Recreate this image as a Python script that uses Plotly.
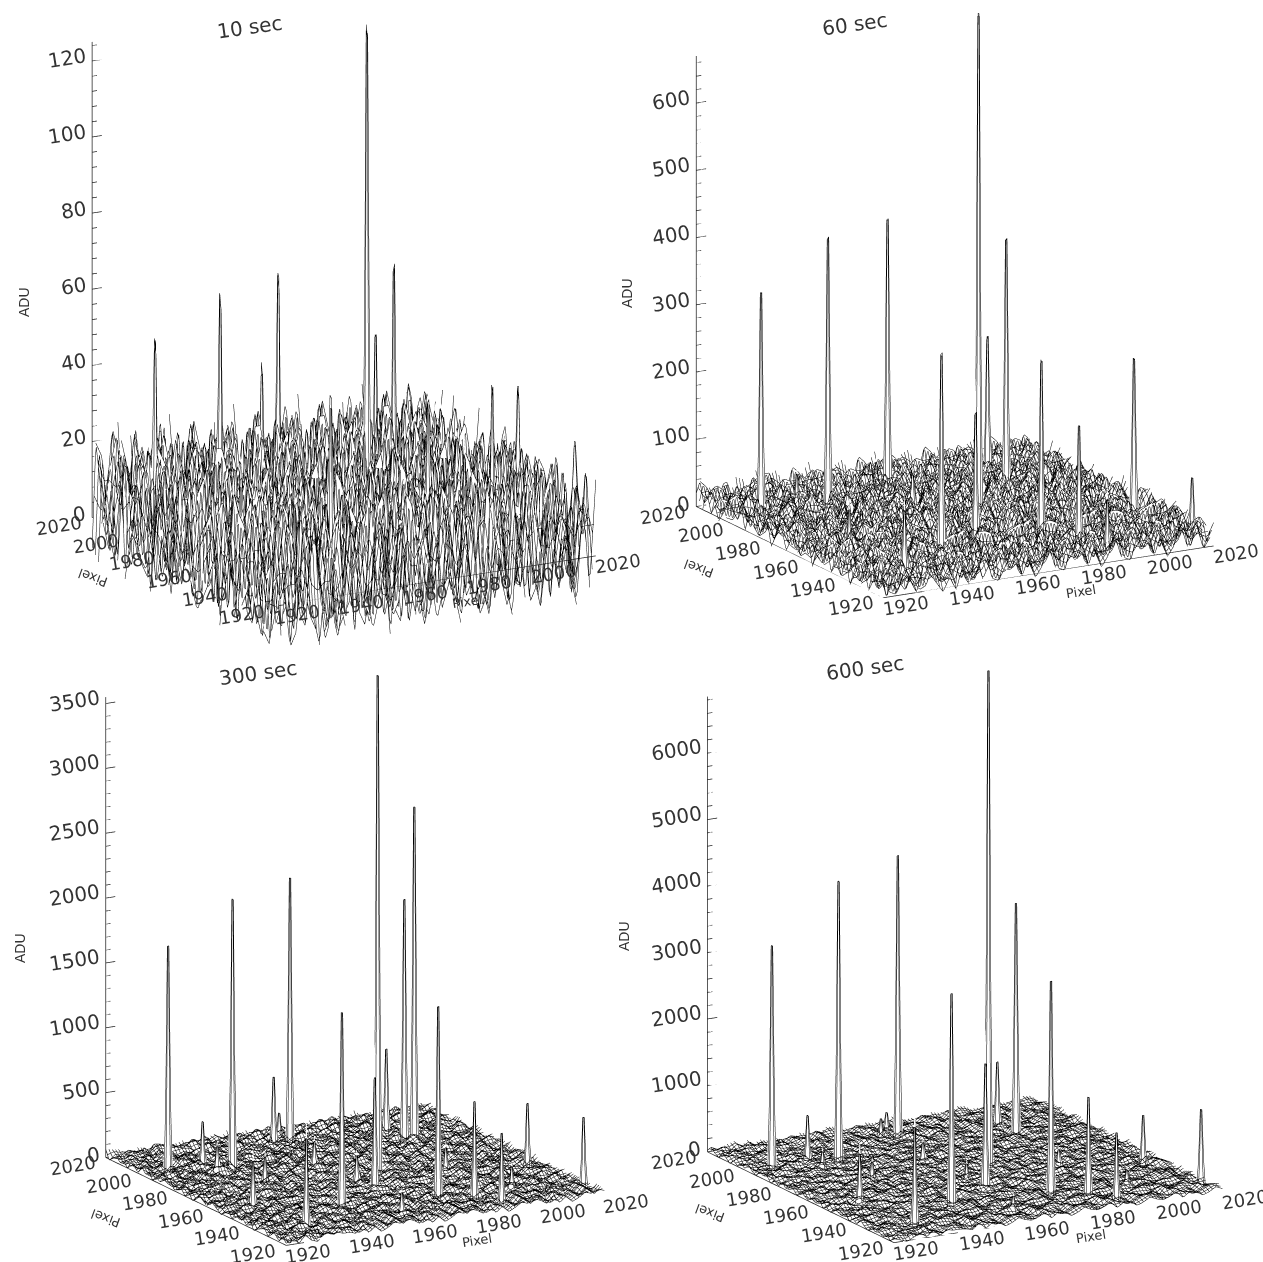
import plotly.graph_objects as go

# hot pixels (detector coordinates) shared by the four exposures
hot_x = [1926,1944,1970,1950,1976,1998,1978,1932,2018,1986,1990,1998,1966,2014,1938,1930,2000,1964,1966,2000,1970,1966,1962,1944,1994,1938]
hot_y = [1996,1992,2006,1942,1968,1992,1938,1930,1928,1932,1924,2002,1952,1952,1998,1956,1990,1982,2008,1936,2012,1962,1930,1974,1962,1990]
# spike heights above the floor, ADU
hot_10 = [48,58,58,43,129,62,38,22,24,26,44,42,30,34,20,22,0,20,34,0,0,0,0,0,0,0]
hot_60 = [340,415,405,304,759,375,277,100,89,184,84,212,193,235,60,70,0,60,40,30,35,30,30,35,30,35]
hot_300 = [1770,2086,2055,1530,3850,1878,1490,700,550,770,565,650,890,510,350,360,2590,200,520,180,200,220,170,220,180,210]
hot_600 = [3390,4270,4270,3210,7520,3514,3240,1500,1130,1500,1050,980,1885,750,700,750,0,300,300,240,300,250,220,280,240,260]
# the wires pass just beside the mesh node, so the node sits higher for the wire to reach the value
peak_gain = 1.33

pixels = list(range(1920, 2021))
pixel_ticks = [1920, 1940, 1960, 1980, 2000, 2020]
titles = ["10 sec", "60 sec", "300 sec", "600 sec"]
z_ticks = [
    [0, 20, 40, 60, 80, 100, 120],
    [0, 100, 200, 300, 400, 500, 600],
    [0, 500, 1000, 1500, 2000, 2500, 3000, 3500],
    [0, 1000, 2000, 3000, 4000, 5000, 6000],
]
z_minor = [4, 20, 100, 200]
z_top = [125, 670, 3550, 6850]

# floor noise, one digit per 2-pixel step; ADU = (digit - offset) * unit
floor_10 = """
716394205781642938057316492870513964207185392640718
294018673152908467312985046731829405617392084651392
563872194060375218946703152984367015829463170592846
107946358271496830251749683025176349820516937428065
849230617584012769354108275936481207695438016275394
356198047263785410692835741069258317904652381790463
971654283109263875014596320847195620478136925048317
420387916542908136785024961738052486391705264983150
685102739486153947206318579420637195842063917584206
239576048173620485931762049358714063285916047328591
874061392586497123058649270135862940371586204973615
152793684020318569274031586927403168529740361852074
608345917264785102396857140296385710942638571094263
397108256439162043785916204387569120438756912043875
541629873015830967412583096741258309674125830964172
063478195728104652983710465298371046529837104659283
786250341967329485016732948501673294850167329485106
912754608341576039284657103928465710392846571039284
345081976253804971625380497162538049716253804917652
670924183572196358047219635804721963580472193658047
128365790464057218936405721893640572189364057281936
893517024689132746085913274608591327460859132476085
456092837115768902345176890234517689023451768903245
201748365902384657190238465719023846571902346857190
739560128473951206847395120684739512068473951206487
584213096787426130958742613095874261309587426310958
960437582161094835726109483572610948357261094385726
317859240632518694073251869407325186940732518964073
642701935884693027518469302751846930275184693207518
175386049290735418620735418620735418620735418620735
908214763558261709345826170934582617093458261790345
423950687116839052471683905247168390524716830952471
756048312997042561839704256183970425618397042651839
381627954042375918604237591860423759186042357918604
094735826164958230716495823071649582307164958320716
527169408372180647953218064795321806479532180467953
860394571259603172486031724860317248603172486037248
213875064926847951302684795130268479513026847591302
749502183663059418273305941827330594182733059418273
386241907505426873199542687319954268731995426873919
651098734281197065342119706534211970653421197065342
032785469178730296415873029641587302964158730292641
974516320843642781059364278105936427810593642781059
185630297454518309762451830976245183097624518300976
460972813692061954738206195473820619547382061954738
793248516030875123694087512369408751236940875132694
528107643917496038512749603851274960385127496083512
316459280741239754806123975480612397548061239754806
649723015865180472693518047269351804726935180472963
872056431292614857301261485730126148573012614857301
105394876243957206184395720618439572061843957206184
""".split()
floor_60 = """
482751963040719265348170392654817039265481703926548
907364128535824691073582469107358246910735824691703
361095847226043175892604317589260431758926043175896
728430516949185037264918503726491850372649185037264
154679280373960482715396048271539604827153960482715
690215837461538720946153872094615387209461538720946
235948601776081395427608139542760813954276081395427
873106452981724506938172450693817245069381724506938
416587329050296843170296843170296843170296843170296
049273685113467925084346792508434679250843467925084
782654091339815042679981504267998150426799815042679
325019764861043789216104378921610437892161043789216
968473215046572130895657213089565721308956572130895
501786942323915467028391546702839154670283915467028
147320859660483921576048392157604839215760483921576
890561437218276150394827615039482761503948276150394
236894071557309648127730964812773096481277309648127
674102398541854073269185407326918540732691854073269
419753620885627310498562731049856273104985627310498
083246957116094875231609487523160948752316094875231
752091864333418926507341892650734189265073418926507
316487025979650312847965031284796503128479650312847
965138742002873165940287316594028731659402873165940
248705619364129057836412905783641290578364129057836
701396258487536842019753684201975368420197536842019
483952160736901274586901274586901274586901274586901
159673804228460937152846093715284609371528460937152
620148397575218460937521846093752184609375218460937
874320965163794105682379410568237941056823794105682
395761280446052837916605283791660528379166052837916
042598173617381496250738149625073814962507381496250
718236405992649570831264957083126495708312649570831
563409871285916023748591602374859160237485916023748
286175934040473819265047381926504738192650473819265
937842016561280576493128057649312805764931280576493
401563728976832194056683219405668321940566832194056
659027843111574938206157493820615749382061574938206
182734695023097685413309768541330976854133097685413
825490176374916203857491620385749162038574916203857
370916548260458137926045813792604581379260458137926
543268019787230694185723069418572306941857230694185
896107325441365972048136597204813659720481365972048
214875630993908451672390845167239084516723908451672
761392084552174360829217436082921743608292174360829
038546917226843215970684321597068432159706843215970
425761983070596728134059672813405967281340596728134
197038452668735104926873510492687351049268735104926
680925317434028693571402869357140286935714028693571
352817064991460528713146052871314605287131460528713
973460128556219734086621973408662197340866219734086
506142873937850269415785026941578502694157850269415
""".split()
floor_300 = """
371820956442916037586291603758629160375862916037586
804593162785037164928503716492850371649285037164928
256047813936184250739618425073961842507396184250739
619738205421867053942186705394218670539421867053942
983260574169502481736950248173695024817369502481736
140579628353729610845372961084537296108453729610845
725416930884160395274416039527441603952744160395274
568903241790247168350247168350247168350247168350247
392185764012853940627285394062728539406272853940627
036742815967519302468751930246875193024687519302468
874601293525038746912503874691250387469125038746912
219358046783695120478369512047836951204783695120478
650827413904972468315497246831549724683154972468315
483190752667281503946728150394672815039467281503946
907634128351406279583140627958314062795831406279583
135296840772860193547286019354728601935472860193547
768041395216534970126534970126534970126534970126534
412975608330197642853019764285301976428530197642853
056382719448725036914872503691487250369148725036914
389710264595468102739546810273954681027395468102739
621498053712093845671209384567120938456712093845671
947035826161378260495137826049513782604951378260495
273864150985902476138590247613859024761385902476138
504129673876214905386621490538662149053866214905386
816753049237650318924765031892476503189247650318924
392680415749941823605994182360599418236059941823605
045917362888063175429806317542980631754298063175429
761204983556327489016632748901663274890166327489016
128563790471479036258147903625814790362581479036258
653048921775108629347510862934751086293475108629347
480971236542856013794285601379428560137942856013794
217345809663790524168379052416837905241683790524168
934826175009214367805921436780592143678059214367805
506192748338431870962843187096284318709628431870962
872350964111567290438156729043815672904381567290438
345718620994082135679408213567940821356794082135679
691405283767326854019732685401973268540197326854019
128967430525907143862590714386259071438625907143862
753240916848165720394816572039481657203948165720394
406183597232749096185274909618527490961852749096185
960732415801683475219168347521916834752191683475219
284591076363056912748305691274830569127483056912748
537026189494271608531427160853142716085314271608531
819463750226918350476691835047669183504766918350476
142805693770534269871053426987105342698710534269871
675390842115802763910580276391058027639105802763910
308174965242469031587246903158724690315872469031587
796523014889137684205913768420591376842059137684205
421869370553790412869379041286937904128693790412869
053742198660285937416028593741602859374160285937416
987216504334614057293461405729346140572934614057293
""".split()
floor_600 = """
630482917554291760384259176038425917603842591760384
175926340883047512698304751269830475126983047512698
849061732596318240576631824057663182405766318240576
203758916447096351824709635182470963518247096351824
567134089210582976431058297643105829764310582976431
394825601776249038157624903815762490381576249038157
718460235939873124605987312460598731246059873124605
026937184561405869372140586937214058693721405869372
451208693782961347058296134705829613470582961347058
983576420109742058316974205831697420583169742058316
260194837545218369704521836970452183697045218369704
675823910438650471928865047192886504719288650471928
137469258026097528341609752834160975283416097528341
892051764361394860257139486025713948602571394860257
304768129585412936076541293607654129360765412936076
548390612747180423695718042369571804236957180423695
761205498332965740183296574018329657401832965740183
029643875118743052961874305296187430529618743052961
486917320564136892507413689250741368925074136892507
153028946770524169378052416937805241693780524169378
970476132889265731046926573104692657310469265731046
312859047606801493527680149352768014935276801493527
645132708923458706192345870619234587061923458706192
238760591441926058374192605837419260583741926058374
507394816272607941835260794183526079418352607941835
894216075363781520469378152046937815204693781520469
126580347919043867251904386725190438672519043867251
753041692888512396470851239647085123964708512396470
469327850105274180936527418093652741809365274180936
381954206767639025148763902514876390251487639025148
902713468534180956723418095672341809567234180956723
246085937161895324076189532407618953240761895324076
615973024898327016549832701654983270165498327016549
078426153973064582791306458279130645827913064582791
734109586222417893650241789365024178936502417893650
590862317445973102864597310286459731028645973102864
823745160966205948371620594837162059483716205948371
167398204539586471023958647102395864710239586471023
452016973883741259608374125960837412596083741259608
906531748214098327564098327564098327564098327564098
381274605906523781946523781946523781946523781946523
745609128372960413852960413852960413852960413852960
218043796557134698204713469820471346982047134698204
693817240528472056139847205613984720561398472056139
047256391863805172946380517294638051729463805172946
572936804114619385027461938502746193850274619385027
836401259770248710635024871063502487106350248710635
129675048345391462876539146287653914628765391462876
460318592791756083214175608321417560832141756083214
957284613002863195740286319574028631957402863195740
314790826463107542983310754298331075429833107542983
""".split()
floor_tables = [floor_10, floor_60, floor_300, floor_600]
hot_tables = [hot_10, hot_60, hot_300, hot_600]
floor_offset = [3, 1, 1, 1]
floor_unit = [4, 5, 8, 12]

# layout in page pixels
WID, HEI = 1263, 1262
scene_box = [(44, 644, 0, 655), (655, 1255, 0, 655), (55, 655, 655, 1262), (667, 1263, 655, 1262)]
base_mid_y = [537.5, 527, 1176, 1171]       # page y of the middle of the z=0 plane
ppu = [3.82, 0.675, 0.1294, 0.0663]         # page pixels per ADU
z_hi = [190, 1050, 5500, 10500]
cube_xy = [1.128, 1.159, 1.205, 1.245]      # scene aspect of the x and y sides
z_unit = [316, 316, 291, 291]               # page pixels per unit of z aspect
eye_dir = (-0.474, -0.835, 0.276)
title_pos = [(250, 27, -8), (855, 24, -8), (258, 673, -8), (865, 668, -8)]
adu_pos = [(24, 302), (627, 293), (20, 948), (624, 936)]
wire_w = [2, 2, 2, 2]
FONT = "DejaVu Sans"
INK = "#333333"


def mesh(table, offset, unit):
    """Wire mesh through the table: the wires are straight between table values."""
    vals = [[(int(c) - offset) * unit for c in row[:51].ljust(51, "4")] for row in table]
    n = len(vals)
    Z = [[0.0] * (2 * n - 1) for _ in range(2 * n - 1)]
    for j in range(2 * n - 1):
        for i in range(2 * n - 1):
            a = [vals[j // 2][i // 2], vals[(j + 1) // 2][i // 2],
                 vals[j // 2][(i + 1) // 2], vals[(j + 1) // 2][(i + 1) // 2]]
            Z[j][i] = sum(a) / 4
    return Z


fig = go.Figure()
layout = {}
annotations = []
for p in range(4):
    name = "scene" if p == 0 else f"scene{p+1}"
    x0, x1, y0, y1 = scene_box[p]
    cy = (y0 + y1) / 2
    lo = 2 * (base_mid_y[p] - cy) / ppu[p] - z_hi[p]
    hi = z_hi[p]
    Z = mesh(floor_tables[p], floor_offset[p], floor_unit[p])
    for hx, hy, h in zip(hot_x, hot_y, hot_tables[p]):
        if h:
            Z[hy - 1920][hx - 1920] = h * peak_gain
    line_c = dict(show=True, start=1920, end=2020, size=1, color="black", width=wire_w[p], highlight=False)
    fig.add_trace(go.Surface(
        x=pixels, y=pixels, z=Z, scene=name, showscale=False, hoverinfo="skip",
        colorscale=[[0, "white"], [1, "white"]],
        lighting=dict(ambient=1, diffuse=0, specular=0, roughness=1, fresnel=0),
        contours=dict(x=line_c, y=line_c, z=dict(show=False, highlight=False)),
    ))
    # frame and z ticks
    fx = [1920, 2020, None, 1920, 1920, None, 1920, 1920]
    fy = [1920, 1920, None, 1920, 2020, None, 2020, 2020]
    fz = [0, 0, None, 0, 0, None, 0, z_top[p]]
    v = 0
    while v <= z_top[p]:
        major = v in z_ticks[p]
        fx += [None, 1920, 1923 if major else 1921.5]
        fy += [None, 2020, 2020]
        fz += [None, v, v]
        v += z_minor[p]
    fig.add_trace(go.Scatter3d(x=fx, y=fy, z=fz, mode="lines", scene=name, hoverinfo="skip",
                               line=dict(color="#222222", width=1.5), showlegend=False))
    ann3 = []
    for t in z_ticks[p]:
        ann3.append(dict(x=1920, y=2020, z=t, text=str(t), showarrow=False, textangle=-9,
                         xanchor="right", xshift=-2, yshift=3,
                         font=dict(family=FONT, size=20, color=INK)))
    for t in pixel_ticks:
        ann3.append(dict(x=t, y=1920, z=0, text=str(t), showarrow=False, textangle=-9,
                         xshift=22, yshift=-8, font=dict(family=FONT, size=18, color=INK)))
        ann3.append(dict(x=1920, y=t, z=0, text=str(t), showarrow=False, textangle=-9,
                         xshift=-33, yshift=-8, font=dict(family=FONT, size=18, color=INK)))
    ann3.append(dict(x=1978, y=1920, z=0, text="Pixel", showarrow=False, textangle=-9,
                     xshift=6, yshift=-24, font=dict(family=FONT, size=13, color=INK)))
    ann3.append(dict(x=1920, y=1990, z=0, text="Pixel", showarrow=False, textangle=200,
                     xshift=-54, yshift=-34, font=dict(family=FONT, size=13, color=INK)))
    axis = lambda rng: dict(visible=False, range=rng, autorange=False)
    layout[name] = dict(
        domain=dict(x=[x0 / WID, x1 / WID], y=[1 - y1 / HEI, 1 - y0 / HEI]),
        xaxis=axis([1920, 2020]), yaxis=axis([1920, 2020]), zaxis=axis([lo, hi]),
        aspectmode="manual",
        aspectratio=dict(x=cube_xy[p], y=cube_xy[p], z=(hi - lo) * ppu[p] / z_unit[p]),
        camera=dict(eye=dict(x=eye_dir[0] * 2, y=eye_dir[1] * 2, z=eye_dir[2] * 2),
                    center=dict(x=0, y=0, z=0), up=dict(x=0, y=0, z=1),
                    projection=dict(type="orthographic")),
        annotations=ann3,
    )
    tx, ty, ta = title_pos[p]
    annotations.append(dict(x=tx / WID, y=1 - ty / HEI, xref="paper", yref="paper", text=titles[p],
                            xanchor="center", yanchor="middle",
                            showarrow=False, textangle=ta, font=dict(family=FONT, size=20, color=INK)))
    ax, ay = adu_pos[p]
    annotations.append(dict(x=ax / WID, y=1 - ay / HEI, xref="paper", yref="paper", text="ADU",
                            xanchor="center", yanchor="middle",
                            showarrow=False, textangle=-90,
                            font=dict(family="Liberation Sans", size=14, color=INK)))

fig.update_layout(width=WID, height=HEI, margin=dict(l=0, r=0, t=0, b=0), paper_bgcolor="white",
                  showlegend=False, annotations=annotations, **layout)
fig.write_html("out.html", config=dict(displayModeBar=False),
               post_script="document.body.style.margin='0';")
